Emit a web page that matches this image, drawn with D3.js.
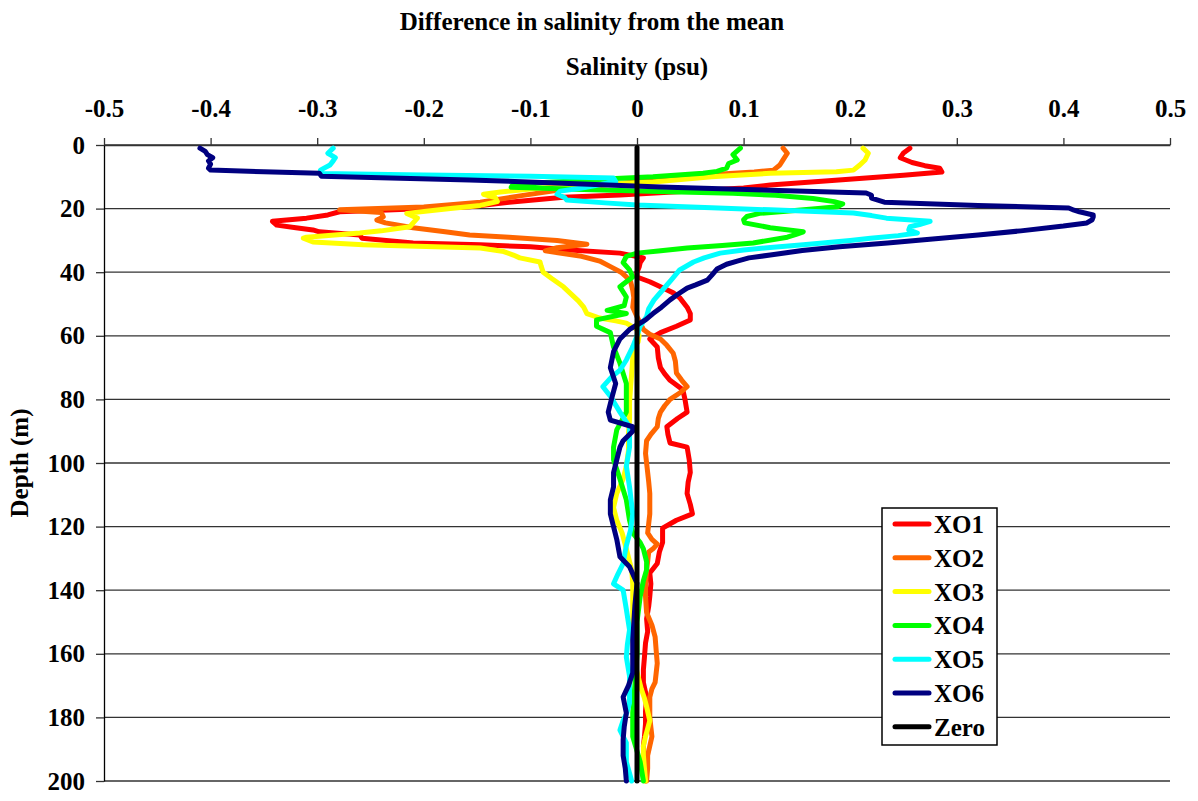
<!DOCTYPE html>
<html>
<head>
<meta charset="utf-8">
<script src="https://cdn.jsdelivr.net/npm/d3@7"></script>
<style>
  html, body { margin: 0; padding: 0; background: #fff; }
  svg { display: block; }
  text { font-family: "Liberation Serif", "Times New Roman", serif; font-weight: bold; fill: #000; }
</style>
</head>
<body>
<svg id="chart" width="1198" height="801"></svg>
<script>
// Salinity anomaly profiles: [depth (m), difference from mean (psu)]
const XO1 = [[1,0.256],[2.5,0.25],[4,0.247],[5.5,0.258],[6.5,0.27],[7.3,0.284],[8.5,0.286],[9.5,0.25],[10.4,0.215],[11.5,0.17],[12.6,0.125],[13.5,0.1],[14.5,0.05],[15.7,-0.016],[16.4,-0.069],[18,-0.12],[19.4,-0.157],[20.5,-0.24],[21,-0.279],[22,-0.29],[23,-0.31],[24,-0.342],[25.2,-0.338],[26,-0.32],[26.7,-0.304],[27.3,-0.298],[28.3,-0.26],[29.3,-0.258],[30.8,-0.21],[31.4,-0.147],[32,-0.1],[33,-0.063],[34,-0.016],[35.5,0.006],[37,0.003],[38.4,0.002],[40,0],[41.5,0],[43,0.012],[44.6,0.022],[46.5,0.034],[48,0.04],[51,0.047],[53,0.05],[55,0.05],[57,0.037],[59,0.022],[61,0.012],[63.5,0.019],[67,0.02],[70,0.022],[72,0.026],[74,0.031],[77,0.043],[80,0.045],[84,0.047],[86,0.038],[88.6,0.028],[91,0.029],[93.7,0.031],[95,0.047],[99,0.049],[103,0.05],[106,0.048],[109.6,0.047],[113,0.05],[116,0.052],[118,0.037],[120.5,0.024],[123,0.024],[125,0.024],[128,0.021],[131.6,0.019],[134.6,0.012],[138,0.013],[142,0.012],[145,0.011],[149,0.009],[153,0.01],[156.6,0.008],[161,0.007],[165,0.006],[169,0.006],[173.6,0.009],[178,0.008],[182,0.008],[186,0.007],[189,0.006],[194,0.007],[200,0.008]];

const XO2 = [[1,0.137],[2.6,0.141],[4.7,0.137],[6.3,0.134],[7.9,0.128],[8.5,0.11],[9.5,0.06],[11,0.019],[12.5,-0.03],[14,-0.07],[16,-0.11],[18,-0.147],[19.5,-0.2],[20.4,-0.279],[21.2,-0.24],[22.6,-0.238],[23.6,-0.244],[24.5,-0.236],[26,-0.21],[27.3,-0.18],[28.3,-0.157],[29,-0.12],[30,-0.075],[31.2,-0.047],[32.3,-0.075],[33.3,-0.086],[35,-0.052],[36.5,-0.035],[38.4,-0.024],[40,-0.015],[41.5,-0.01],[43,-0.006],[45.6,-0.004],[48,-0.003],[51,-0.004],[54,0],[56,0.003],[58,0.006],[59.5,0.012],[61,0.022],[63,0.028],[65.5,0.034],[68,0.036],[71.7,0.037],[74,0.042],[76,0.047],[78,0.04],[80,0.031],[82,0.026],[84,0.022],[86,0.02],[88.6,0.019],[91,0.013],[93,0.009],[97,0.008],[100,0.009],[103,0.01],[106,0.011],[109.6,0.012],[113,0.012],[116,0.012],[119,0.011],[122,0.01],[124,0.014],[125.5,0.019],[127,0.015],[128,0.011],[131,0.01],[133.6,0.009],[138,0.008],[142,0.008],[147,0.009],[151,0.014],[154.7,0.017],[159,0.018],[163,0.019],[166,0.018],[169,0.017],[171,0.014],[173.6,0.012],[177,0.012],[180,0.012],[183,0.013],[186,0.014],[189,0.012],[192,0.01],[196,0.01],[200,0.009]];

const XO3 = [[1,0.212],[2.6,0.217],[4.7,0.214],[6.3,0.209],[7.9,0.203],[8.4,0.187],[8.9,0.125],[10,0.07],[11.6,0.015],[12.5,-0.04],[13.5,-0.09],[14.8,-0.128],[15.5,-0.144],[16.5,-0.133],[17.8,-0.131],[19,-0.147],[20,-0.175],[21.5,-0.216],[23,-0.206],[24.5,-0.21],[25.7,-0.213],[27,-0.24],[27.7,-0.26],[29,-0.31],[29.3,-0.313],[30.5,-0.304],[31.4,-0.257],[32.4,-0.147],[33.5,-0.125],[34.6,-0.116],[35.5,-0.11],[36.8,-0.091],[38,-0.09],[40,-0.088],[42,-0.08],[44.6,-0.069],[46.5,-0.063],[49,-0.055],[51,-0.05],[53,-0.047],[54.4,-0.035],[55.3,-0.02],[56,-0.01],[58,0],[60,0.002],[62,0.001],[63.5,-0.004],[67,-0.004],[72,-0.005],[76,-0.006],[81,-0.007],[86,-0.007],[91,-0.008],[96,-0.008],[101,-0.01],[105,-0.013],[109.6,-0.019],[114,-0.022],[118,-0.019],[122,-0.014],[127,-0.01],[133.6,-0.005],[138,-0.004],[142,-0.004],[147,-0.004],[152.5,-0.004],[155,-0.004],[159,-0.003],[163,-0.002],[167,0.001],[171,0.004],[174,0.007],[176.6,0.009],[181,0.012],[183.5,0.01],[186,0.008],[189,0.006],[192,0.006],[196,0.007],[200,0.008]];

const XO4 = [[1,0.097],[3,0.09],[4.7,0.094],[5.8,0.086],[7.3,0.084],[8.3,0.075],[8.9,0.062],[10,0.015],[10.5,-0.02],[11.3,-0.06],[12,-0.1],[12.7,-0.117],[13.3,-0.118],[14,-0.05],[14.6,0.02],[15.2,0.09],[15.8,0.13],[16.8,0.165],[17.8,0.185],[18.5,0.193],[19.4,0.188],[20,0.17],[20.8,0.14],[21.5,0.115],[22.5,0.103],[23.5,0.1],[24.5,0.101],[26,0.125],[27.3,0.156],[28,0.15],[29,0.141],[30.8,0.109],[31.6,0.08],[32.4,0.047],[33.3,0.02],[34,0],[35,-0.01],[37,-0.013],[39.3,-0.007],[41.5,-0.004],[43,-0.01],[44.6,-0.016],[47.8,-0.01],[50.5,-0.012],[52,-0.028],[53,-0.01],[55,-0.038],[57,-0.038],[59,-0.025],[63.5,-0.022],[68.6,-0.016],[75,-0.01],[80,-0.01],[84,-0.01],[89.6,-0.019],[95,-0.022],[99,-0.022],[105,-0.016],[111.6,-0.01],[118,-0.007],[122,-0.004],[125,0.003],[127,0.006],[131,0.009],[133.6,0.009],[137,0.006],[142,0.003],[150,0],[160,0],[170,-0.002],[178.6,-0.004],[186,-0.004],[194,0.003],[200,0.006]];

const XO5 = [[1,-0.285],[2.6,-0.29],[4,-0.283],[5,-0.285],[6.3,-0.288],[7.9,-0.297],[9,-0.297],[9.4,-0.2],[9.8,-0.1],[10.4,-0.022],[11.5,-0.02],[12.5,-0.035],[13.6,-0.053],[14.5,-0.072],[15.5,-0.075],[16.5,-0.068],[17.3,-0.066],[18.2,-0.03],[18.9,0],[19.7,0.07],[20.4,0.125],[21.4,0.203],[22.2,0.22],[23,0.234],[24,0.275],[25,0.265],[25.7,0.256],[26.7,0.255],[27.7,0.263],[28.5,0.245],[29.3,0.219],[30,0.2],[31.4,0.156],[32.2,0.125],[33,0.1],[34,0.078],[35.5,0.063],[36.8,0.053],[39.3,0.04],[42.5,0.032],[45.6,0.024],[48.7,0.016],[51.5,0.011],[54,0.009],[57,0.003],[60,0],[63.5,-0.004],[67.6,-0.01],[70.8,-0.016],[73,-0.024],[76,-0.032],[79,-0.025],[84,-0.016],[88.6,-0.007],[95,-0.007],[101,-0.01],[107.5,-0.007],[116,-0.004],[121,-0.006],[126,-0.01],[131.6,-0.013],[135,-0.018],[138,-0.022],[140,-0.013],[146,-0.01],[152.5,-0.007],[157,-0.009],[161,-0.01],[167,-0.007],[171,-0.007],[175.5,-0.007],[179,-0.01],[181,-0.013],[184,-0.016],[188,-0.01],[194,-0.01],[200,-0.005]];

const XO6 = [[1,-0.41],[2,-0.405],[3,-0.403],[4,-0.398],[5,-0.402],[6,-0.4],[7.3,-0.402],[7.9,-0.4],[8.4,-0.35],[8.9,-0.298],[9.8,-0.296],[11,-0.157],[12,-0.07],[13.2,0.022],[14.2,0.125],[15.1,0.215],[15.8,0.22],[16.7,0.22],[18,0.232],[19,0.32],[19.8,0.405],[20.5,0.41],[21,0.415],[22,0.428],[22.6,0.428],[23.5,0.427],[24.5,0.422],[25.5,0.4],[27,0.36],[28.3,0.32],[29.5,0.28],[30.8,0.235],[32,0.19],[33.2,0.155],[34.6,0.125],[35.5,0.105],[36.5,0.094],[37.5,0.084],[39,0.075],[41,0.07],[42.5,0.066],[44,0.055],[45,0.047],[47,0.038],[48.7,0.031],[51,0.023],[53,0.015],[55,0.008],[56.6,0],[58,-0.007],[61,-0.016],[65,-0.022],[70,-0.025],[75,-0.02],[80,-0.024],[84,-0.027],[86.5,-0.025],[88.6,-0.004],[90,-0.004],[93,-0.013],[95,-0.016],[99,-0.019],[103,-0.022],[107.5,-0.022],[111.6,-0.025],[116,-0.025],[120,-0.022],[124,-0.019],[129.5,-0.016],[132.6,-0.007],[137.8,0],[145,-0.002],[155.7,-0.004],[166,-0.004],[170,-0.008],[173.6,-0.013],[178.6,-0.01],[183,-0.012],[187,-0.013],[192,-0.013],[196,-0.011],[200,-0.01]];

const ZERO = [[0.8,0],[200,0]];

const seriesNames = ["XO1", "XO2", "XO3", "XO4", "XO5", "XO6", "Zero"];
const seriesData = [XO1, XO2, XO3, XO4, XO5, XO6, ZERO];
const seriesColors = ["#ff0000", "#ff6600", "#ffff00", "#00ff00", "#00ffff", "#000080", "#000000"];

const salinityTicks = [-0.5, -0.4, -0.3, -0.2, -0.1, 0, 0.1, 0.2, 0.3, 0.4, 0.5];
const salinityTickLabels = ["-0.5", "-0.4", "-0.3", "-0.2", "-0.1", "0", "0.1", "0.2", "0.3", "0.4", "0.5"];
const depthTicks = [0, 20, 40, 60, 80, 100, 120, 140, 160, 180, 200];

const svg = d3.select("#chart");
const W = 1198, H = 801;
const plot = { left: 104, right: 1170, top: 145, bottom: 781 };

svg.append("rect").attr("width", W).attr("height", H).attr("fill", "#fff");

const x = d3.scaleLinear().domain([-0.5, 0.5]).range([plot.left, plot.right]);
const y = d3.scaleLinear().domain([0, 200]).range([plot.top, plot.bottom]);

// horizontal gridlines at each depth tick
svg.append("g")
  .selectAll("line")
  .data(depthTicks)
  .join("line")
  .attr("x1", plot.left).attr("x2", plot.right)
  .attr("y1", d => y(d)).attr("y2", d => y(d))
  .attr("stroke", "#333").attr("stroke-width", 1.3);

// salinity axis along the top
const xAxis = svg.append("g")
  .attr("transform", `translate(0,${plot.top})`)
  .call(d3.axisTop(x)
    .tickValues(salinityTicks)
    .tickFormat((d, i) => salinityTickLabels[i])
    .tickSize(7).tickSizeOuter(0).tickPadding(21));
xAxis.select(".domain").attr("stroke", "#333").attr("stroke-width", 1.3);
xAxis.selectAll(".tick line").attr("stroke", "#333").attr("stroke-width", 1.3);
xAxis.selectAll("text").attr("font-size", 25).attr("font-family", null);

// depth axis on the left
const yAxis = svg.append("g")
  .attr("transform", `translate(${plot.left},0)`)
  .call(d3.axisLeft(y)
    .tickValues(depthTicks)
    .tickSize(8).tickSizeOuter(0).tickPadding(11));
yAxis.select(".domain").attr("stroke", "#000").attr("stroke-width", 1.3);
yAxis.selectAll(".tick line").attr("stroke", "#333").attr("stroke-width", 1.3);
yAxis.selectAll("text").attr("font-size", 25).attr("font-family", null);

// profiles
const line = d3.line().x(d => x(d[1])).y(d => y(d[0]));
svg.append("g")
  .selectAll("path")
  .data(seriesData)
  .join("path")
  .attr("d", line)
  .attr("fill", "none")
  .attr("stroke", (d, i) => seriesColors[i])
  .attr("stroke-width", 5)
  .attr("stroke-linejoin", "round")
  .attr("stroke-linecap", "round");

// titles
svg.append("text").attr("x", 592).attr("y", 30).attr("text-anchor", "middle")
  .attr("font-size", 25).text("Difference in salinity from the mean");
svg.append("text").attr("x", 637).attr("y", 75).attr("text-anchor", "middle")
  .attr("font-size", 25).text("Salinity (psu)");
svg.append("text")
  .attr("transform", `translate(28,463) rotate(-90)`)
  .attr("text-anchor", "middle").attr("font-size", 25).text("Depth (m)");

// legend
const legend = svg.append("g");
legend.append("rect")
  .attr("x", 882).attr("y", 508).attr("width", 115).attr("height", 237)
  .attr("fill", "#fff").attr("stroke", "#000").attr("stroke-width", 1.5);
const item = legend.selectAll("g.item")
  .data(seriesNames)
  .join("g")
  .attr("class", "item")
  .attr("transform", (d, i) => `translate(0,${524 + i * 33.8})`);
item.append("line")
  .attr("x1", 895).attr("x2", 929).attr("y1", 0).attr("y2", 0)
  .attr("stroke", (d, i) => seriesColors[i])
  .attr("stroke-width", 5).attr("stroke-linecap", "round");
item.append("text")
  .attr("x", 934).attr("y", 9).attr("font-size", 25).text(d => d);
</script>
</body>
</html>
